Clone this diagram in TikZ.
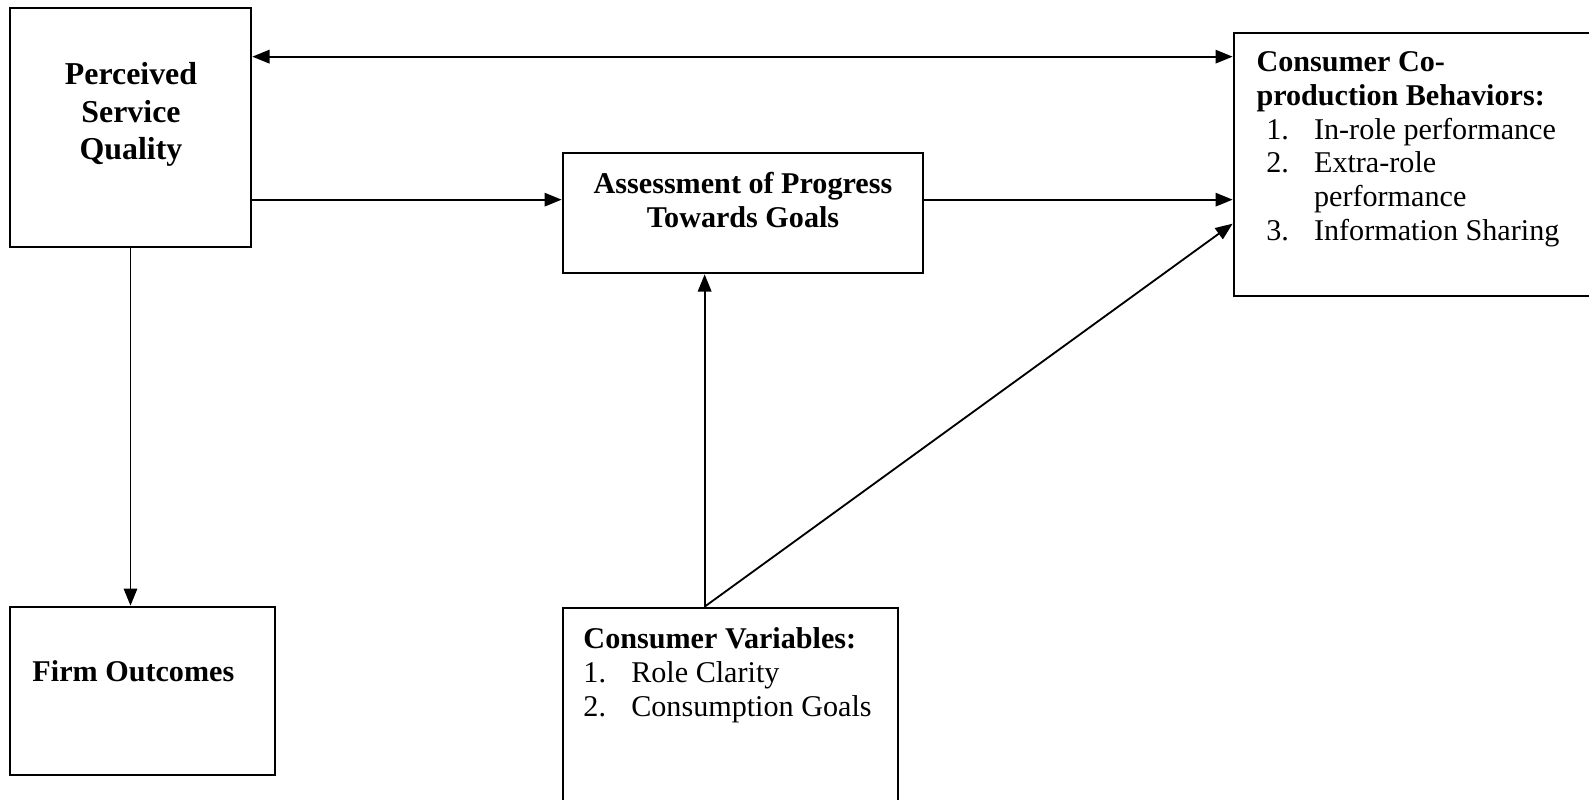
\documentclass[tikz,border=0pt]{standalone}
\usepackage{fontspec}
\setmainfont{Liberation Serif}
\usetikzlibrary{arrows.meta,calc,fit}

\begin{document}
\begin{tikzpicture}[x=0.408pt,y=-0.408pt]
	\tikzset{box/.style={draw,line width=1.1pt,inner sep=0pt},
		txt/.style={inner sep=0pt,font=\fontsize{12.3}{13.8}\selectfont},
		tip/.style={Triangle[length=7pt,width=5.5pt]},
		link/.style={line width=0.75pt,-{Triangle[length=7pt,width=5.5pt]}}}
	\def\num#1{\makebox[19.5pt][l]{#1}}
	\useasboundingbox (0,0) rectangle (1589,799);
	\clip (0,0) rectangle (1589,799);
	% boxes
	\node[box,fit={(10,8) (251,247)}] (psq) {};
	\node[box,fit={(563,153) (923,273)}] (apg) {};
	\node[box,fit={(1234,33) (1600,296)}] (ccb) {};
	\node[box,fit={(10,607) (275,775)}] (fo) {};
	\node[box,fit={(563,608) (898,820)}] (cv) {};
	% texts
	\node[txt,anchor=north,align=center,font=\bfseries\fontsize{13}{15.3}\selectfont]
		(psqtext) at (131,62) {Perceived\\Service\\Quality};
	\node[txt,anchor=north,align=center,font=\bfseries\fontsize{12.3}{13.8}\selectfont]
		(apgtext) at (743,172) {Assessment of Progress\\Towards Goals};
	\node[txt,anchor=north west,align=left] (ccbtext) at (1256,51)
		{\textbf{Consumer Co-}\\\textbf{production Behaviors:}\\
		\hspace*{4pt}\num{1.}In-role performance\\
		\hspace*{4pt}\num{2.}Extra-role\\
		\hspace*{4pt}\num{}performance\\
		\hspace*{4pt}\num{3.}Information Sharing};
	\node[txt,anchor=north west,align=left] (cvtext) at (583,627)
		{\textbf{Consumer Variables:}\\\num{1.}Role Clarity\\\num{2.}Consumption Goals};
	\node[txt,anchor=west,font=\bfseries\fontsize{12.3}{13.8}\selectfont] (fotext) at (32,671) {Firm Outcomes};
	% connectors
	\coordinate (top) at ($(psq.north east)+(0,50)$);
	\coordinate (mid) at ($(psq.north east)+(0,193)$);
	\coordinate (foot) at ($(cv.north west)+(143,0)$);
	\coordinate (side) at ($(ccb.north west)+(0,192)$);
	\draw[link,{Triangle[length=7pt,width=5.5pt]}-{Triangle[length=7pt,width=5.5pt]}]
		(top) -- (top -| ccb.west);
	\draw[link] (mid) -- (mid -| apg.west);
	\draw[link] (mid -| apg.east) -- (mid -| ccb.west);
	\draw[link] (psq.south) -- (psq.south |- fo.north);
	\draw[link] (foot) -- (foot |- apg.south);
	\draw[link] (foot) -- (side);
\end{tikzpicture}
\end{document}
